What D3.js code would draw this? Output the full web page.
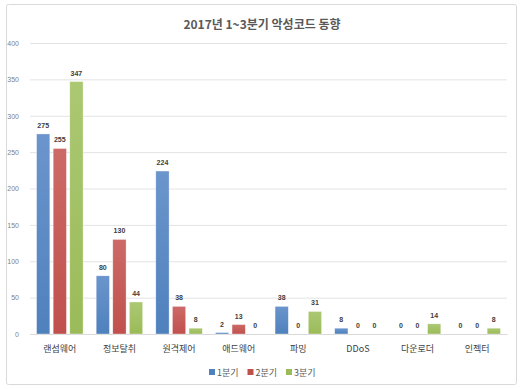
<!DOCTYPE html>
<html>
<head>
  <meta charset="utf-8" />
  <title>2017년 1~3분기 악성코드 동향</title>
  <style type="text/css">
    body { margin: 0; background: #fff; }
    svg text { font-family: 'Noto Sans CJK KR', 'Noto Sans', sans-serif; }
  </style>
</head>
<body>
  <div id="chart"></div>

  <script src="https://cdn.jsdelivr.net/npm/d3@7"></script>
  <script>
  var categories = ['랜섬웨어', '정보탈취', '원격제어', '애드웨어', '파밍', 'DDoS', '다운로더', '인젝터'];
  var seriesNames = ['1분기', '2분기', '3분기'];
  var q1 = [275, 80, 224, 2, 38, 8, 0, 0];
  var q2 = [255, 130, 38, 13, 0, 0, 0, 0];
  var q3 = [347, 44, 8, 0, 31, 0, 14, 8];
  var yTicks = [0, 50, 100, 150, 200, 250, 300, 350, 400];
  var colors = ['#4f81bd', '#c0504d', '#9bbb59'];
  var colorsTop = ['#6b95cc', '#cc6a67', '#abc872'];

  var series = [q1, q2, q3];
  var width = 525, height = 389;
  var margin = {top: 43, right: 18, bottom: 55, left: 30};
  var innerW = width - margin.left - margin.right;
  var innerH = height - margin.top - margin.bottom;

  var svg = d3.select('#chart').append('svg')
    .attr('width', width).attr('height', height);

  // gradients for the bars
  var defs = svg.append('defs');
  colors.forEach(function (c, i) {
    var g = defs.append('linearGradient').attr('id', 'grad' + i)
      .attr('x1', 0).attr('y1', 0).attr('x2', 0).attr('y2', 1);
    g.append('stop').attr('offset', '0%').attr('stop-color', colorsTop[i]);
    g.append('stop').attr('offset', '100%').attr('stop-color', c);
  });

  // outer frame
  svg.append('rect')
    .attr('x', 6.5).attr('y', 4.5).attr('width', 510).attr('height', 380)
    .attr('rx', 2).attr('fill', '#fff').attr('stroke', '#d9d9d9');

  svg.append('text')
    .attr('x', 262).attr('y', 29)
    .attr('text-anchor', 'middle')
    .attr('font-size', 12).attr('font-weight', 'bold')
    .attr('fill', '#595959')
    .text('2017년 1~3분기 악성코드 동향');

  var g = svg.append('g').attr('transform', 'translate(' + margin.left + ',' + margin.top + ')');

  var y = d3.scaleLinear().domain([0, 400]).range([innerH, 0]);
  var x0 = d3.scaleBand().domain(categories).range([0, innerW]).paddingInner(0.22).paddingOuter(0.11);
  var x1 = d3.scaleBand().domain(d3.range(seriesNames.length)).range([0, x0.bandwidth()]).paddingInner(0.2);

  // gridlines
  g.append('g')
    .call(d3.axisLeft(y).tickValues(yTicks).tickSize(-innerW).tickFormat(''))
    .call(function (s) {
      s.select('.domain').remove();
      s.selectAll('line').attr('stroke', '#e3e3e3');
    });

  // y labels
  g.append('g')
    .attr('transform', 'translate(-8,0)')
    .call(d3.axisLeft(y).tickValues(yTicks).tickSize(0))
    .call(function (s) {
      s.select('.domain').remove();
      s.selectAll('text').attr('font-size', 7).attr('fill', '#7f7f7f')
        .style('font-family', "'Liberation Sans', sans-serif");
    });

  // x labels
  g.append('g')
    .attr('transform', 'translate(0,' + innerH + ')')
    .call(d3.axisBottom(x0).tickSize(0).tickPadding(12))
    .call(function (s) {
      s.select('.domain').attr('stroke', '#d9d9d9');
      s.selectAll('text').attr('font-size', 9).attr('fill', '#404040');
    });

  var groups = g.selectAll('.grp').data(categories).enter().append('g')
    .attr('transform', function (d) { return 'translate(' + x0(d) + ',0)'; });

  groups.selectAll('rect')
    .data(function (d, ci) { return series.map(function (s, si) { return {si: si, v: s[ci]}; }); })
    .enter().append('rect')
    .attr('x', function (d) { return x1(d.si); })
    .attr('y', function (d) { return y(d.v); })
    .attr('width', x1.bandwidth())
    .attr('height', function (d) { return innerH - y(d.v); })
    .attr('fill', function (d) { return 'url(#grad' + d.si + ')'; })
    .attr('stroke', function (d) { return d.v > 0 ? 'rgba(255,255,255,0.6)' : 'none'; })
    .attr('stroke-width', 0.6);

  groups.selectAll('.val')
    .data(function (d, ci) { return series.map(function (s, si) { return {si: si, v: s[ci]}; }); })
    .enter().append('text')
    .attr('x', function (d) { return x1(d.si) + x1.bandwidth() / 2; })
    .attr('y', function (d) { return y(d.v) - 6; })
    .attr('text-anchor', 'middle')
    .attr('font-size', 7).attr('font-weight', 'bold')
    .attr('fill', '#404040')
    .style('font-family', "'Liberation Sans', sans-serif")
    .text(function (d) { return d.v; });

  // legend
  var legend = svg.append('g').attr('transform', 'translate(209,372)');
  seriesNames.forEach(function (n, i) {
    var lg = legend.append('g').attr('transform', 'translate(' + (i * 38.5) + ',0)');
    lg.append('rect').attr('x', 0).attr('y', -3).attr('width', 6).attr('height', 6).attr('fill', colors[i]);
    lg.append('text').attr('x', 8).attr('y', 3.5).attr('font-size', 9).attr('fill', '#595959').text(n);
  });
  </script>
</body>
</html>
